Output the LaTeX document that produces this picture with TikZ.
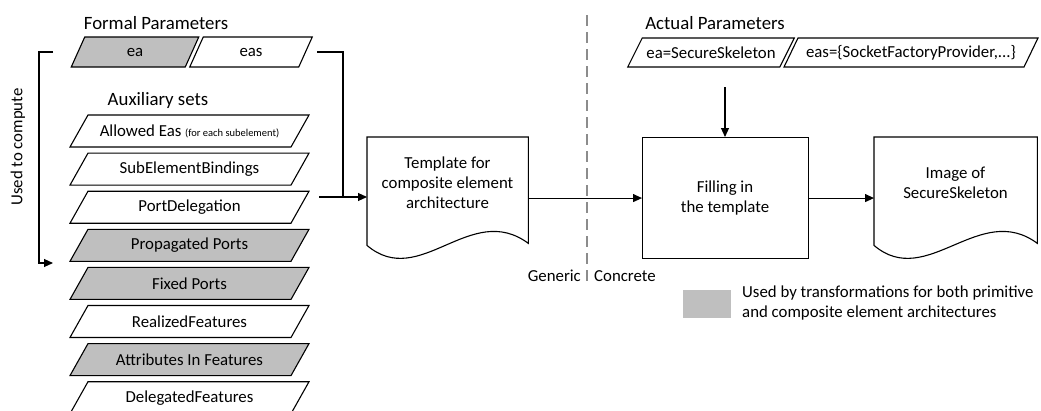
\documentclass[tikz,border=0pt]{standalone}
\usepackage{fontspec}
\setmainfont{Carlito}
\usetikzlibrary{arrows.meta}

\definecolor{shade}{RGB}{191,191,191}
\definecolor{divider}{RGB}{140,140,140}

\tikzset{
  body/.style={font=\fontsize{16.8}{20}\selectfont, inner sep=0pt, align=center},
  head/.style={font=\fontsize{18.8}{22}\selectfont, inner sep=0pt},
  outline/.style={draw=black, line width=1.1pt},
  flow/.style={draw=black, line width=1.1pt, -{Triangle[length=9pt,width=8pt]}},
  link/.style={draw=black, line width=1.1pt},
}

% parallelogram data box: name, cx, cy, width, height, skew, fill, text
\newcommand\plg[8]{%
  \path[outline, fill=#7]
    ({#2-#4/2+#6/2},{#3-#5/2}) -- ({#2+#4/2+#6/2},{#3-#5/2}) --
    ({#2+#4/2-#6/2},{#3+#5/2}) -- ({#2-#4/2-#6/2},{#3+#5/2}) -- cycle;
  \node[body] (#1) at (#2,#3) {#8};}

% document shape with a wavy lower edge, drawn on the frame of node #1
\newcommand\docwave[1]{%
  \path[outline, fill=white]
    (#1.north west) -- (#1.north east) -- ([yshift=2pt]#1.south east)
    .. controls ([xshift=-58pt,yshift=45pt]#1.south east)
       and ([xshift=53pt,yshift=-45pt]#1.south west) ..
    (#1.south west) -- cycle;}

\begin{document}
\begin{tikzpicture}[x=1pt,y=-1pt]
\useasboundingbox (0,0) rectangle (1041,410);

% ---------- formal parameters ----------
\node[head] (fptitle) at (156,23) {Formal Parameters};
\plg{ea}{135}{52}{114}{30}{13.5}{shade}{ea}
\plg{eas}{251}{52}{109}{30}{13.5}{white}{eas}

% ---------- auxiliary sets ----------
\node[head] (auxtitle) at (158,100) {Auxiliary sets};
\plg{allowed}{189.5}{131}{221}{32}{18}{white}{Allowed Eas {\fontsize{10.5}{12}\selectfont (for each subelement)}}
\plg{subbind}{189.5}{169.1}{221}{32}{18}{white}{SubElementBindings}
\plg{portdel}{189.5}{207.2}{221}{32}{18}{white}{PortDelegation}
\plg{propports}{189.5}{245.3}{221}{32}{18}{shade}{Propagated Ports}
\plg{fixports}{189.5}{283.4}{221}{32}{18}{shade}{Fixed Ports}
\plg{realfeat}{189.5}{321.5}{221}{32}{18}{white}{RealizedFeatures}
\plg{attrfeat}{189.5}{359.6}{221}{32}{18}{shade}{Attributes In Features}
\plg{delfeat}{189.5}{397.7}{221}{32}{18}{white}{DelegatedFeatures}

% ---------- "used to compute" bracket ----------
\node[body, rotate=90] (usedlbl) at (18,147) {Used to compute};
\coordinate (lbtop) at (53,52);
\coordinate (lbend) at (53,263);
\draw[flow] (lbtop) -| (39,263) -- (lbend);

% ---------- bracket into the template ----------
\coordinate (rbtop) at (317,52);
\coordinate (rbjoin) at (343,197);
\coordinate (pdout) at (319,197);

% ---------- template document ----------
\node[minimum width=161pt, minimum height=108pt, inner sep=0pt, anchor=north west] (tpl) at (367,137) {};
\docwave{tpl}
\node[body] (tpltext) at (447.5,183) {Template for\\composite element\\architecture};

\draw[link] (rbtop) -| (rbjoin);
\draw[link] (pdout) -- (rbjoin);
\draw[flow] (rbjoin) -- (rbjoin -| tpl.west);

% ---------- generic / concrete divider ----------
\coordinate (divtop) at (587,15);
\coordinate (divbot) at (587,284);
\draw[divider, line width=1.6pt, dash pattern=on 11pt off 6pt] (divtop) -- (divbot);
\node[body, anchor=east] (generic) at (581,276) {Generic};
\node[body, anchor=west] (concrete) at (594,276) {Concrete};

% ---------- actual parameters ----------
\node[head] (aptitle) at (715,23) {Actual Parameters};
\plg{eaval}{711}{52.5}{152}{29}{14.5}{white}{ea=SecureSkeleton}
\plg{easval}{911}{52.5}{240}{29}{14}{white}{eas=\{SocketFactoryProvider,...\}}
\coordinate (apar) at (725,87);

% ---------- filling in the template ----------
\node[outline, body, minimum width=166pt, minimum height=121pt, anchor=north west] (fill) at (642,137) {};
\node[body] (filltext) at (725,198) {Filling in\\the template};
\draw[flow] (apar) -- (apar |- fill.north);
\draw[flow] (fill.west -| tpl.east) -- (fill.west);

% ---------- resulting image ----------
\node[minimum width=163pt, minimum height=108pt, inner sep=0pt, anchor=north west] (img) at (874,137) {};
\docwave{img}
\node[body] (imgtext) at (955.5,183) {Image of\\SecureSkeleton};
\draw[flow] (fill.east) -- (fill.east -| img.west);

% ---------- legend ----------
\node[fill=shade, minimum width=48pt, minimum height=28pt, inner sep=0pt, anchor=north west] (key) at (683,290) {};
\node[body, align=left, anchor=west] (keytext) at (742,303.5) {Used by transformations for both primitive\\and composite element architectures};
\end{tikzpicture}
\end{document}
